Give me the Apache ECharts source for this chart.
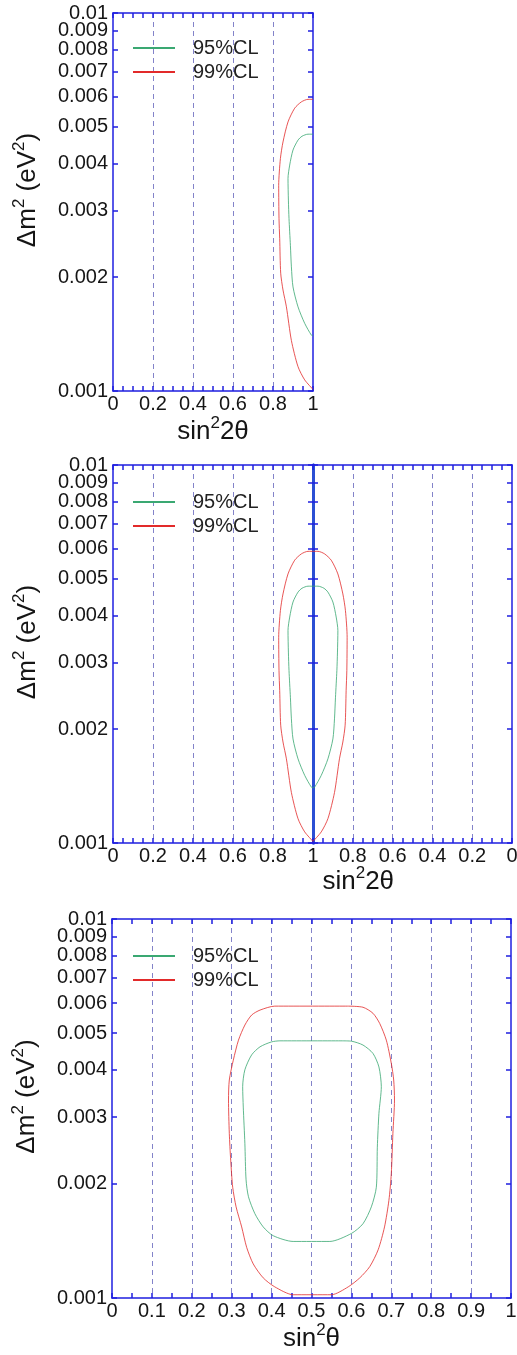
<!DOCTYPE html>
<html>
<head>
<meta charset="utf-8">
<script src="https://cdn.jsdelivr.net/npm/echarts@6/dist/echarts.min.js"></script>
<style>
  html, body { margin: 0; padding: 0; background: #fff; }
  #chart { width: 517px; height: 1355px; }
</style>
</head>
<body>
<div id="chart"></div>
<script>
// Δm² axis (log), ticks and labels
const yTicks = [0.001, 0.002, 0.003, 0.004, 0.005, 0.006, 0.007, 0.008, 0.009, 0.01];
const yTickLabels = ['0.001', '0.002', '0.003', '0.004', '0.005', '0.006', '0.007', '0.008', '0.009', '0.01'];

// x tick labels
const xLabelsFifth = ['0', '0.2', '0.4', '0.6', '0.8', '1'];
const xLabelsTenth = ['0', '0.1', '0.2', '0.3', '0.4', '0.5', '0.6', '0.7', '0.8', '0.9', '1'];

// sin²2θ contours (top panel, and both halves of the middle panel)
const cl95X2t = [1.0, 0.975, 0.945, 0.925, 0.9, 0.8835, 0.875, 0.877, 0.88, 0.887, 0.892, 0.9, 0.925, 0.9585, 0.992, 1.0];
const cl95Y2t = [0.00478, 0.00478, 0.00472, 0.00461, 0.00434, 0.00396, 0.00365, 0.0032, 0.00286, 0.00243, 0.00213, 0.001885, 0.00167, 0.00151, 0.001405, 0.0014];
const cl99X2t = [1.0, 0.975, 0.942, 0.9085, 0.875, 0.85, 0.837, 0.8285, 0.83, 0.8335, 0.8385, 0.85, 0.867, 0.892, 0.925, 0.9585, 1.0];
const cl99Y2t = [0.00591, 0.00591, 0.00582, 0.0056, 0.00515, 0.00456, 0.00412, 0.0035, 0.00286, 0.00253, 0.00205, 0.00185, 0.00167, 0.00136, 0.00116, 0.00107, 0.00101];

// sin²θ contours (bottom panel)
const cl95Xt = [0.579, 0.421, 0.4, 0.371, 0.35, 0.333, 0.3275, 0.329, 0.333, 0.336, 0.342, 0.358, 0.379, 0.404, 0.454, 0.546, 0.6, 0.629, 0.65, 0.6625, 0.665, 0.669, 0.675, 0.669, 0.654, 0.629, 0.6, 0.579];
const cl95Yt = [0.00477, 0.00477, 0.00474, 0.0046, 0.00438, 0.004, 0.00361, 0.00319, 0.00256, 0.00205, 0.00185, 0.00167, 0.00154, 0.00146, 0.00141, 0.00141, 0.00148, 0.00157, 0.00174, 0.00196, 0.0025, 0.00307, 0.00361, 0.00407, 0.00442, 0.00465, 0.00476, 0.00477];
const cl99Xt = [0.592, 0.408, 0.371, 0.35, 0.333, 0.317, 0.304, 0.294, 0.292, 0.294, 0.2975, 0.3025, 0.311, 0.325, 0.3375, 0.354, 0.379, 0.408, 0.454, 0.55, 0.592, 0.621, 0.646, 0.667, 0.683, 0.694, 0.7, 0.704, 0.708, 0.706, 0.7, 0.6875, 0.671, 0.654, 0.629, 0.592];
const cl99Yt = [0.00589, 0.00589, 0.00575, 0.00558, 0.00525, 0.00479, 0.00424, 0.00376, 0.00333, 0.00272, 0.00231, 0.00196, 0.00174, 0.00154, 0.00136, 0.00123, 0.00113, 0.00107, 0.00102, 0.00102, 0.00107, 0.00113, 0.00121, 0.00134, 0.00154, 0.00181, 0.00213, 0.00272, 0.00333, 0.00376, 0.00416, 0.00479, 0.0053, 0.00564, 0.00585, 0.00589];

const FONT = '"Liberation Sans", Arial, sans-serif';
const BLUE = '#1f1fe0';
const MIDBLUE = '#2b4fd4';
const GRIDLINE = '#8383c9';
const GREEN = '#3aa872';
const RED = '#e22a2a';
const TEXT = '#151515';

// tick positions in log space for the label/tick axes
const yLog = yTicks.map(v => Math.log10(v));
// labels split over two axes so that close neighbours are never dropped
const yLogOdd = yLog.filter((v, i) => i % 2 === 0);
const yLogEven = yLog.filter((v, i) => i % 2 === 1);

const nameRich = {
  a: { fontSize: 26, fontFamily: FONT, color: TEXT, lineHeight: 34 },
  s: { fontSize: 17, fontFamily: FONT, color: TEXT, lineHeight: 17, verticalAlign: 'top' }
};
const X2NAME = '{a|sin}{s|2}{a|2θ}';
const X1NAME = '{a|sin}{s|2}{a|θ}';
const YNAME = '{a|Δm}{s|2}{a| (eV}{s|2}{a|)}';

let grids = [
  { left: 113, top: 13, width: 200, height: 378 },
  { left: 113, top: 465, width: 200, height: 378 },
  { left: 313, top: 465, width: 199, height: 378 },
  { left: 112, top: 919, width: 399, height: 379 }
].map(g => Object.assign({ outerBoundsMode: 'none', containLabel: false }, g));

function xPair(gi, step, labels, extra) {
  let minor = step === 0.2 ? 4 : 2;
  let bottom = {
    gridIndex: gi, type: 'value', position: 'bottom', min: 0, max: 1, interval: step,
    inverse: !!extra.inverse,
    axisLine: { show: true, onZero: false, lineStyle: { color: BLUE, width: 1.5 } },
    axisTick: { show: true, inside: true, length: 5, lineStyle: { color: BLUE, width: 1.5 } },
    minorTick: { show: true, splitNumber: minor, length: 5, lineStyle: { color: BLUE, width: 1.5 } },
    axisLabel: {
      show: true, margin: 3, fontSize: 20, fontFamily: FONT, color: TEXT, hideOverlap: false,
      showMinLabel: true,
      showMaxLabel: extra.showMaxLabel !== false,
      formatter: v => labels[Math.round(v / step)]
    },
    splitLine: { show: true, showMinLine: false, showMaxLine: false, lineStyle: { color: GRIDLINE, type: [5, 4], width: 1 } },
    name: extra.name || '',
    nameLocation: extra.nameLocation || 'middle',
    nameGap: extra.nameGap != null ? extra.nameGap : 22,
    nameTextStyle: Object.assign({ rich: nameRich }, extra.nameStyle || {})
  };
  let top = {
    gridIndex: gi, type: 'value', position: 'top', min: 0, max: 1, interval: step,
    inverse: !!extra.inverse,
    axisLine: { show: true, onZero: false, lineStyle: { color: BLUE, width: 1.5 } },
    axisTick: { show: true, inside: true, length: 5, lineStyle: { color: BLUE, width: 1.5 } },
    minorTick: { show: true, splitNumber: minor, length: 5, lineStyle: { color: BLUE, width: 1.5 } },
    axisLabel: { show: false },
    splitLine: { show: false }
  };
  return [bottom, top];
}

function yLabelFmt(v) {
  let i = yLog.findIndex(t => Math.abs(t - v) < 1e-6);
  return i >= 0 ? yTickLabels[i] : '';
}

function yLabelStyle(show, values) {
  return {
    show: show, customValues: values, margin: 5, fontSize: 20,
    fontFamily: FONT, color: TEXT,
    hideOverlap: false, showMinLabel: true, showMaxLabel: true, formatter: yLabelFmt
  };
}

function yGroup(gi, opts) {
  return [
    { gridIndex: gi, type: 'log', logBase: 10, min: 0.001, max: 0.01, position: 'left', show: false,
      axisLine: { onZero: false } },
    {
      gridIndex: gi, type: 'value', position: 'left', min: -3, max: -2,
      axisLine: { show: true, onZero: false, lineStyle: { color: opts.leftColor || BLUE, width: opts.leftWidth || 1.5 } },
      axisTick: { show: true, inside: true, length: 5, customValues: yLog, lineStyle: { color: BLUE, width: 1.5 } },
      axisLabel: yLabelStyle(!!opts.labels, yLogOdd),
      splitLine: { show: false },
      name: opts.labels ? YNAME : '',
      nameLocation: 'middle', nameGap: 68,
      nameTextStyle: { rich: nameRich, padding: [0, 0, 0, 24] }
    },
    {
      gridIndex: gi, type: 'value', position: 'left', min: -3, max: -2,
      axisLine: { show: false, onZero: false },
      axisTick: { show: false },
      axisLabel: yLabelStyle(!!opts.labels, yLogEven),
      splitLine: { show: false }
    },
    {
      gridIndex: gi, type: 'value', position: 'right', min: -3, max: -2,
      axisLine: { show: true, onZero: false, lineStyle: { color: opts.rightColor || BLUE, width: opts.rightWidth || 1.5 } },
      axisTick: { show: true, inside: true, length: 5, customValues: yLog, lineStyle: { color: BLUE, width: 1.5 } },
      axisLabel: { show: false },
      splitLine: { show: false }
    }
  ];
}

function contour(name, xs, ys, color, gi) {
  return {
    type: 'line', name: name,
    xAxisIndex: gi * 2, yAxisIndex: gi * 4,
    data: xs.map((x, i) => [x, ys[i]]),
    symbol: 'none', showSymbol: false, smooth: 0.25,
    color: color, itemStyle: { color: color },
    lineStyle: { color: color, width: 1, opacity: 0.8 },
    silent: true, z: 5
  };
}

let xAxes = [].concat(
  xPair(0, 0.2, xLabelsFifth, { name: X2NAME }),
  xPair(1, 0.2, xLabelsFifth, {
    name: X2NAME, nameLocation: 'end', nameGap: 0,
    nameStyle: { align: 'center', verticalAlign: 'top', padding: [22, 0, 0, 0] }
  }),
  xPair(2, 0.2, xLabelsFifth, { inverse: true, showMaxLabel: false }),
  xPair(3, 0.1, xLabelsTenth, { name: X1NAME })
);

let yAxes = [].concat(
  yGroup(0, { labels: true }),
  yGroup(1, { labels: true, rightColor: MIDBLUE, rightWidth: 3 }),
  yGroup(2, { leftColor: MIDBLUE, leftWidth: 3 }),
  yGroup(3, { labels: true })
);

let series = [
  contour('95%CL', cl95X2t, cl95Y2t, GREEN, 0),
  contour('99%CL', cl99X2t, cl99Y2t, RED, 0),
  contour('95%CL', cl95X2t, cl95Y2t, GREEN, 1),
  contour('99%CL', cl99X2t, cl99Y2t, RED, 1),
  contour('95%CL', cl95X2t, cl95Y2t, GREEN, 2),
  contour('99%CL', cl99X2t, cl99Y2t, RED, 2),
  contour('95%CL', cl95Xt, cl95Yt, GREEN, 3),
  contour('99%CL', cl99Xt, cl99Yt, RED, 3)
];

let legends = [38, 492, 946].map(t => ({
  orient: 'vertical', left: 133, top: t, padding: 0, itemGap: 4,
  itemWidth: 42, itemHeight: 2, icon: 'rect', selectedMode: false,
  data: ['95%CL', '99%CL'],
  textStyle: { fontSize: 20, fontFamily: FONT, color: '#222', lineHeight: 20, padding: [0, 0, 0, 13] }
}));

let chart = echarts.init(document.getElementById('chart'), null, { renderer: 'canvas' });
chart.setOption({
  animation: false,
  backgroundColor: '#fff',
  grid: grids,
  xAxis: xAxes,
  yAxis: yAxes,
  legend: legends,
  series: series
});
</script>
</body>
</html>
